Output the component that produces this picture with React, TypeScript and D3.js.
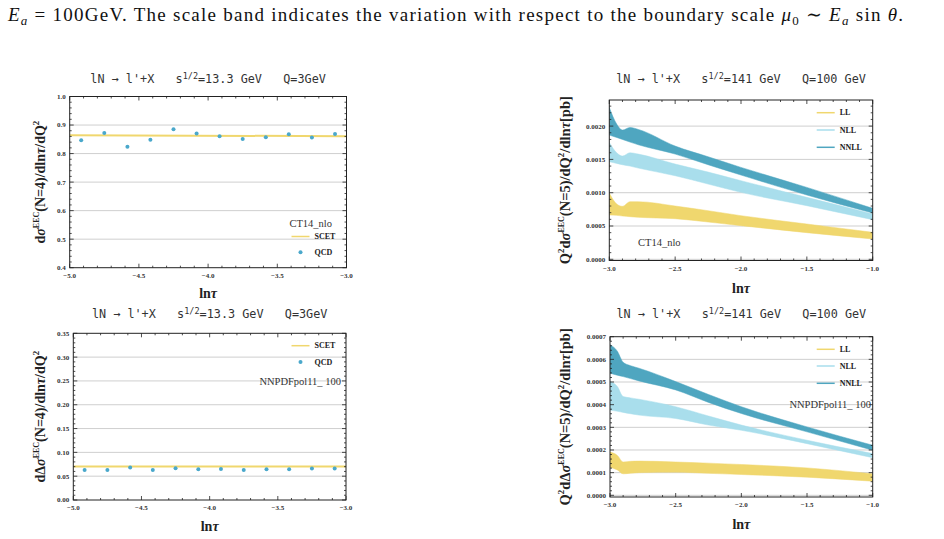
import React, { useEffect, useRef } from 'react';
import * as d3 from 'd3';

// lN -> l'+X, sqrt(s)=13.3 GeV, Q=3 GeV, N=4 (QCD points vs SCET line)
const lnTauPoints = [-4.917, -4.75, -4.583, -4.417, -4.25, -4.083, -3.917, -3.75, -3.583, -3.417, -3.25, -3.083];
const qcdUnpolN4 = [0.847, 0.872, 0.824, 0.848, 0.885, 0.870, 0.861, 0.851, 0.857, 0.868, 0.856, 0.869];
const qcdPolN4 = [0.0632, 0.0632, 0.068, 0.0632, 0.0667, 0.0646, 0.0653, 0.0632, 0.0646, 0.0646, 0.066, 0.066];
const scetX = [-5, -3];
const scetUnpolN4 = [0.864, 0.861];
const scetPolN4 = [0.0705, 0.0705];

// lN -> l'+X, sqrt(s)=141 GeV, Q=100 GeV, N=5 (scale bands)
const bandX = [-3, -2.944, -2.9, -2.843, -2.78, -2.5, -2.25, -2.0, -1.5, -1.0];
const llUnpolHi = [0.000995, 0.00083, 0.000795, 0.000865, 0.000865, 0.0008, 0.00073, 0.000655, 0.00053, 0.000405];
const llUnpolLo = [0.000665, 0.00066, 0.00065, 0.00064, 0.00063, 0.00061, 0.00056, 0.000505, 0.0004, 0.000305];
const nllUnpolHi = [0.001755, 0.0016, 0.00155, 0.0016, 0.00158, 0.00143, 0.00131, 0.00118, 0.00093, 0.00068];
const nllUnpolLo = [0.001465, 0.00144, 0.00142, 0.0014, 0.00137, 0.001255, 0.00113, 0.001005, 0.000805, 0.000595];
const nnllUnpolHi = [0.00228, 0.00203, 0.00194, 0.00198, 0.00195, 0.0017, 0.00154, 0.00138, 0.00108, 0.000765];
const nnllUnpolLo = [0.001865, 0.00183, 0.0018, 0.00176, 0.00172, 0.00158, 0.00142, 0.001265, 0.000965, 0.000695];

const llPolHi = [0.000191, 0.000176, 0.000147, 0.00015, 0.000151, 0.000147, 0.000142, 0.000136, 0.000121, 0.0000948];
const llPolLo = [0.000124, 0.000112, 0.0000948, 0.0000975, 0.0001, 0.000102, 0.000097, 0.0000918, 0.00008, 0.0000622];
const nllPolHi = [0.000502, 0.00048, 0.000436, 0.00043, 0.000424, 0.000391, 0.00035, 0.00031, 0.000243, 0.000184];
const nllPolLo = [0.000376, 0.000371, 0.000366, 0.00036, 0.000354, 0.000339, 0.00031, 0.000287, 0.000228, 0.000166];
const nnllPolHi = [0.000665, 0.000636, 0.000587, 0.000572, 0.000561, 0.000502, 0.000445, 0.000391, 0.000302, 0.000221];
const nnllPolLo = [0.000539, 0.00053, 0.000524, 0.000515, 0.000505, 0.000465, 0.00041, 0.000361, 0.00028, 0.000199];

const yellow = '#f0d76e';
const lightBlue = '#a9deec';
const teal = '#4fa6c0';
const dotBlue = '#4aa8cb';
const serif = '"Liberation Serif", "DejaVu Serif", serif';
const mono = '"DejaVu Sans Mono", monospace';

const rng = (a, b, step) => d3.range(Math.round(a / step), Math.round(b / step) + 1).map(i => i * step);

const App = () => {
    const ref = useRef(null);

    useEffect(() => {
        const svg = d3.select(ref.current);
        svg.selectAll('*').remove();

        // caption line
        const cap = svg.append('text').attr('x', 8).attr('y', 21)
            .attr('font-family', serif).attr('font-size', 19).attr('fill', '#111')
            .attr('textLength', 895).attr('lengthAdjust', 'spacing');
        cap.append('tspan').attr('font-style', 'italic').text('E');
        cap.append('tspan').attr('font-style', 'italic').attr('font-size', 13).attr('dy', 4).text('a');
        cap.append('tspan').attr('dy', -4).text(' = 100GeV. The scale band indicates the variation with respect to the boundary scale ');
        cap.append('tspan').attr('font-style', 'italic').text('μ');
        cap.append('tspan').attr('font-size', 13).attr('dy', 4).text('0');
        cap.append('tspan').attr('dy', -4).text(' ∼ ');
        cap.append('tspan').attr('font-style', 'italic').text('E');
        cap.append('tspan').attr('font-style', 'italic').attr('font-size', 13).attr('dy', 4).text('a');
        cap.append('tspan').attr('dy', -4).text(' sin ');
        cap.append('tspan').attr('font-style', 'italic').text('θ');
        cap.append('tspan').text('.');

        const drawPanel = (p, id) => {
            const g = svg.append('g');
            const x = d3.scaleLinear().domain(p.xDomain).range([p.left, p.right]);
            const y = d3.scaleLinear().domain(p.yDomain).range([p.bottom, p.top]);

            g.append('clipPath').attr('id', id).append('rect')
                .attr('x', p.left).attr('y', p.top)
                .attr('width', p.right - p.left).attr('height', p.bottom - p.top);

            // horizontal grid
            g.selectAll('.grid').data(p.yMajor.filter(v => v > p.yDomain[0] + 1e-12 && v < p.yDomain[1] - 1e-12))
                .enter().append('line')
                .attr('x1', p.left).attr('x2', p.right)
                .attr('y1', d => y(d)).attr('y2', d => y(d))
                .attr('stroke', '#cfcfcf').attr('stroke-width', 1);

            const plot = g.append('g').attr('clip-path', `url(#${id})`);
            if (p.draw) p.draw(plot, x, y);

            // frame
            g.append('rect').attr('x', p.left).attr('y', p.top)
                .attr('width', p.right - p.left).attr('height', p.bottom - p.top)
                .attr('fill', 'none').attr('stroke', '#222').attr('stroke-width', 1);

            const ticks = g.append('g').attr('stroke', '#222').attr('stroke-width', 0.8);
            const xt = [...p.xMajor.map(v => [v, 4]), ...p.xMinor.map(v => [v, 2])];
            xt.forEach(([v, len]) => {
                ticks.append('line').attr('x1', x(v)).attr('x2', x(v)).attr('y1', p.bottom).attr('y2', p.bottom - len);
                ticks.append('line').attr('x1', x(v)).attr('x2', x(v)).attr('y1', p.top).attr('y2', p.top + len);
            });
            const yt = [...p.yMajor.map(v => [v, 4]), ...p.yMinor.map(v => [v, 2])];
            yt.forEach(([v, len]) => {
                ticks.append('line').attr('y1', y(v)).attr('y2', y(v)).attr('x1', p.left).attr('x2', p.left + len);
                ticks.append('line').attr('y1', y(v)).attr('y2', y(v)).attr('x1', p.right).attr('x2', p.right - len);
            });

            // tick labels
            g.selectAll('.xl').data(p.xMajor).enter().append('text')
                .attr('x', d => x(d)).attr('y', p.bottom + 10)
                .attr('text-anchor', 'middle').attr('font-family', serif).attr('font-weight', 'bold')
                .attr('font-size', 7).attr('fill', '#333')
                .text(d => d3.format('.1f')(d));
            g.selectAll('.yl').data(p.yMajor).enter().append('text')
                .attr('x', p.left - 4).attr('y', d => y(d) + 2.4)
                .attr('text-anchor', 'end').attr('font-family', serif).attr('font-weight', 'bold')
                .attr('font-size', 7).attr('fill', '#333')
                .text(d => d3.format(p.yFmt)(d));

            // x label
            const xl = g.append('text').attr('x', (p.left + p.right) / 2).attr('y', p.xLabelY)
                .attr('text-anchor', 'middle').attr('font-family', serif).attr('font-weight', 'bold')
                .attr('font-size', 14).attr('fill', '#222');
            xl.append('tspan').text('ln');
            xl.append('tspan').attr('font-style', 'italic').text('τ');

            // y label
            const yl = g.append('text')
                .attr('transform', `translate(${p.yLabelX},${(p.top + p.bottom) / 2}) rotate(-90)`)
                .attr('text-anchor', 'middle').attr('font-family', serif).attr('font-weight', 'bold')
                .attr('font-size', p.yLabelSize).attr('fill', '#222');
            p.yLabel.forEach(([txt, kind]) => {
                const t = yl.append('tspan').text(txt);
                if (kind === 'i') t.attr('font-style', 'italic');
                if (kind === 'sup') t.attr('font-size', 8).attr('dy', -6);
                if (kind === 'sup2') t.attr('font-size', 9).attr('dy', -6);
                if (kind === 'down') t.attr('dy', 6);
            });

            // title
            const tt = g.append('text').attr('x', (p.left + p.right) / 2).attr('y', p.titleY)
                .attr('text-anchor', 'middle').attr('font-family', mono).attr('font-size', 11.8)
                .attr('fill', '#333').style('white-space', 'pre');
            tt.append('tspan').text(p.title[0]);
            tt.append('tspan').attr('font-size', 8.5).attr('dy', -4).text('1/2');
            tt.append('tspan').attr('dy', 4).text(p.title[1]);

            if (p.legend) p.legend(g);
        };

        const drawPoints = (xs, ys, sx, sy) => (plot, x, y) => {
            plot.append('path')
                .datum(sx.map((v, i) => [v, sy[i]]))
                .attr('d', d3.line().x(d => x(d[0])).y(d => y(d[1])))
                .attr('fill', 'none').attr('stroke', yellow).attr('stroke-width', 2);
            plot.selectAll('.pt').data(xs.map((v, i) => [v, ys[i]])).enter().append('circle')
                .attr('cx', d => x(d[0])).attr('cy', d => y(d[1])).attr('r', 2)
                .attr('fill', dotBlue);
        };

        const drawBands = (bands) => (plot, x, y) => {
            const area = d3.area()
                .x(d => x(d.x)).y0(d => y(d.lo)).y1(d => y(d.hi))
                .curve(d3.curveMonotoneX);
            bands.forEach(([lo, hi, color]) => {
                plot.append('path')
                    .datum(bandX.map((v, i) => ({ x: v, lo: lo[i], hi: hi[i] })))
                    .attr('d', area).attr('fill', color).attr('stroke', color).attr('stroke-width', 0.5);
            });
        };

        const smallLegend = (items, x0, ys) => (g) => {
            items.forEach(([label, kind, color], i) => {
                if (kind === 'line') {
                    g.append('line').attr('x1', x0).attr('x2', x0 + 18).attr('y1', ys[i]).attr('y2', ys[i])
                        .attr('stroke', color).attr('stroke-width', 1.5);
                } else {
                    g.append('circle').attr('cx', x0 + 9).attr('cy', ys[i]).attr('r', 2).attr('fill', color);
                }
                g.append('text').attr('x', x0 + 23).attr('y', ys[i] + 2.7)
                    .attr('font-family', serif).attr('font-weight', 'bold').attr('font-size', 8)
                    .attr('fill', '#222').text(label);
            });
        };

        const note = (g, txt, xx, yy, anchor) => {
            g.append('text').attr('x', xx).attr('y', yy).attr('text-anchor', anchor)
                .attr('font-family', serif).attr('font-size', 10.5).attr('fill', '#333').text(txt);
        };

        const titleLow = ['lN → l\'+X   s', '=13.3\u2009GeV   Q=3GeV'];
        const titleHigh = ['lN → l\'+X   s', '=141\u2009GeV   Q=100\u2009GeV'];
        const xLow = rng(-5, -3, 0.5);
        const xLowMinor = rng(-5, -3, 0.1).filter(v => !xLow.some(m => Math.abs(m - v) < 1e-9));
        const xHigh = rng(-3, -1, 0.5);
        const xHighMinor = rng(-3, -1, 0.1).filter(v => !xHigh.some(m => Math.abs(m - v) < 1e-9));
        const minorsOf = (a, b, step, majors) => rng(a, b, step).filter(v => !majors.some(m => Math.abs(m - v) < step / 10));

        const y1Major = rng(0.4, 1.0, 0.1);
        drawPanel({
            left: 69.7, right: 346.5, top: 96.5, bottom: 267.7,
            xDomain: [-5, -3], yDomain: [0.4, 1.0],
            xMajor: xLow, xMinor: xLowMinor,
            yMajor: y1Major, yMinor: minorsOf(0.4, 1.0, 0.02, y1Major), yFmt: '.1f',
            xLabelY: 298, yLabelX: 45, yLabelSize: 14, titleY: 83, title: titleLow,
            yLabel: [['d'], ['σ', 'i'], ['EEC', 'sup'], ['(N=4)/dln', 'down'], ['τ', 'i'], ['/dQ'], ['2', 'sup2']],
            draw: drawPoints(lnTauPoints, qcdUnpolN4, scetX, scetUnpolN4),
            legend: (g) => {
                note(g, 'CT14_nlo', 332, 227, 'end');
                smallLegend([['SCET', 'line', yellow], ['QCD', 'dot', dotBlue]], 291.5, [236.5, 252.3])(g);
            },
        }, 'clip1');

        const y3Major = rng(0, 0.35, 0.05);
        drawPanel({
            left: 73.3, right: 346, top: 333.3, bottom: 500,
            xDomain: [-5, -3], yDomain: [0, 0.35],
            xMajor: xLow, xMinor: xLowMinor,
            yMajor: y3Major, yMinor: minorsOf(0, 0.35, 0.01, y3Major), yFmt: '.2f',
            xLabelY: 531, yLabelX: 45, yLabelSize: 14, titleY: 318, title: titleLow,
            yLabel: [['d'], ['Δ'], ['σ', 'i'], ['EEC', 'sup'], ['(N=4)/dln', 'down'], ['τ', 'i'], ['/dQ'], ['2', 'sup2']],
            draw: drawPoints(lnTauPoints, qcdPolN4, scetX, scetPolN4),
            legend: (g) => {
                smallLegend([['SCET', 'line', yellow], ['QCD', 'dot', dotBlue]], 291.5, [345.7, 362])(g);
                note(g, 'NNPDFpol11_  100', 341, 384.5, 'end');
            },
        }, 'clip3');

        const y2Major = rng(0, 0.002, 0.0005);
        drawPanel({
            left: 609.3, right: 872.7, top: 100, bottom: 260.5,
            xDomain: [-3, -1], yDomain: [-0.000018, 0.002392],
            xMajor: xHigh, xMinor: xHighMinor,
            yMajor: y2Major, yMinor: minorsOf(0, 0.0023, 0.0001, y2Major), yFmt: '.4f',
            xLabelY: 293, yLabelX: 570, yLabelSize: 14.5, titleY: 83, title: titleHigh,
            yLabel: [['Q'], ['2', 'sup2'], ['d', 'down'], ['σ', 'i'], ['EEC', 'sup'], ['(N=5)/dQ', 'down'], ['2', 'sup2'], ['/dln', 'down'], ['τ', 'i'], ['[pb]']],
            draw: drawBands([[llUnpolLo, llUnpolHi, yellow], [nllUnpolLo, nllUnpolHi, lightBlue], [nnllUnpolLo, nnllUnpolHi, teal]]),
            legend: (g) => {
                smallLegend([['LL', 'line', yellow], ['NLL', 'line', lightBlue], ['NNLL', 'line', teal]], 816.7, [112.7, 130, 147.3])(g);
                note(g, 'CT14_nlo', 638, 246, 'start');
            },
        }, 'clip2');

        const y4Major = rng(0, 0.0007, 0.0001);
        drawPanel({
            left: 610, right: 872.7, top: 336.7, bottom: 497,
            xDomain: [-3, -1], yDomain: [-0.0000075, 0.0007],
            xMajor: xHigh, xMinor: xHighMinor,
            yMajor: y4Major, yMinor: minorsOf(0, 0.0007, 0.00002, y4Major), yFmt: '.4f',
            xLabelY: 529, yLabelX: 570, yLabelSize: 14.5, titleY: 318, title: titleHigh,
            yLabel: [['Q'], ['2', 'sup2'], ['d', 'down'], ['Δ'], ['σ', 'i'], ['EEC', 'sup'], ['(N=5)/dQ', 'down'], ['2', 'sup2'], ['/dln', 'down'], ['τ', 'i'], ['[pb]']],
            draw: drawBands([[llPolLo, llPolHi, yellow], [nllPolLo, nllPolHi, lightBlue], [nnllPolLo, nnllPolHi, teal]]),
            legend: (g) => {
                smallLegend([['LL', 'line', yellow], ['NLL', 'line', lightBlue], ['NNLL', 'line', teal]], 816.7, [349.3, 366, 383.3])(g);
                note(g, 'NNPDFpol11_  100', 871, 407.5, 'end');
            },
        }, 'clip4');
    }, []);

    return (
        <svg ref={ref} width={944} height={539}
            style={{ position: 'absolute', left: 0, top: 0, background: '#fff' }} />
    );
};

export default App;
